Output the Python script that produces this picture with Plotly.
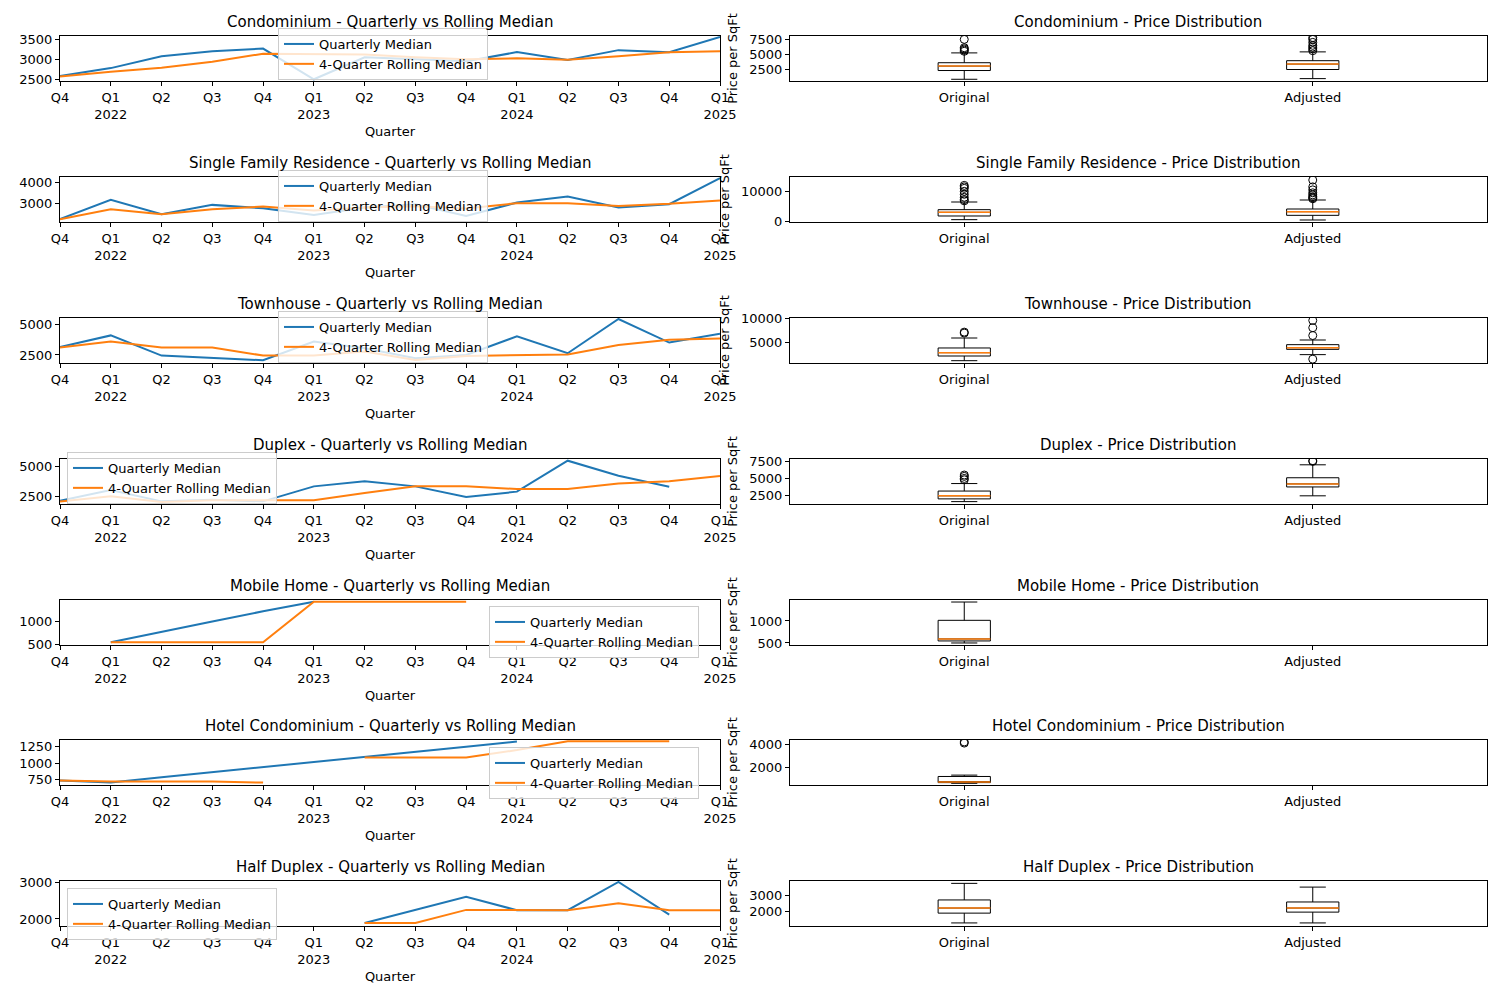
import plotly.graph_objects as go

quarters = ["Q4", "Q1<br>2022", "Q2", "Q3", "Q4", "Q1<br>2023", "Q2", "Q3", "Q4",
            "Q1<br>2024", "Q2", "Q3", "Q4", "Q1<br>2025"]
N = None

types = ["Condominium", "Single Family Residence", "Townhouse", "Duplex",
         "Mobile Home", "Hotel Condominium", "Half Duplex"]

quarterly = {
    "Condominium": [2585, 2780, 3075, 3200, 3270, 2500, 3050, 3000, 2950, 3180, 2985, 3230, 3180, 3560],
    "Single Family Residence": [2250, 3160, 2480, 2920, 2760, 2440, 2800, 2950, 2400, 3030, 3320, 2800, 2950, 4190],
    "Townhouse": [3150, 4080, 2450, 2250, 2070, 3590, 3040, 2230, 2500, 4000, 2640, 5410, 3500, 4210],
    "Duplex": [2140, 3030, 2080, 2220, 2080, 3330, 3750, 3330, 2440, 2890, 5470, 4220, 3300, N],
    "Mobile Home": [N, 551, 770, 1005, 1225, 1435, N, N, N, N, N, N, N, N],
    "Hotel Condominium": [740, 709, 790, 865, 940, 1020, 1095, 1175, 1250, 1330, N, N, N, N],
    "Half Duplex": [N, N, N, N, N, N, 1890, 2255, 2600, 2236, 2236, 3000, 2118, N],
}
rolling = {
    "Condominium": [2570, 2690, 2790, 2940, 3140, 3130, 3120, 3050, 3000, 3025, 2990, 3075, 3180, 3200],
    "Single Family Residence": [2240, 2710, 2480, 2710, 2840, 2650, 2800, 2850, 2750, 3000, 3000, 2870, 2970, 3130],
    "Townhouse": [3100, 3590, 3100, 3100, 2450, 2450, 2770, 2090, 2420, 2450, 2530, 3310, 3720, 3830],
    "Duplex": [2060, 2500, 2030, 2170, 2170, 2170, 2780, 3330, 3330, 3110, 3110, 3560, 3750, 4190],
    "Mobile Home": [N, 551, 551, 551, 551, 1435, 1435, 1435, 1435, N, N, N, N, N],
    "Hotel Condominium": [740, 724, 724, 724, 709, N, 1087, 1087, 1087, 1200, 1332, 1332, 1332, N],
    "Half Duplex": [N, N, N, N, N, N, 1890, 1890, 2245, 2236, 2236, 2427, 2236, 2236],
}
line_ranges = [[2457, 3584], [2111, 4238], [1848, 5489], [1861, 5611], [493, 1471], [673, 1352], [1809, 3027]]
line_ticks = [[2500, 3000, 3500], [3000, 4000], [2500, 5000], [2500, 5000], [500, 1000], [750, 1000, 1250], [2000, 3000]]

# box stats: [low whisker, q1, median, q3, high whisker]
box_original = {
    "Condominium": [800, 2270, 3010, 3580, 5230],
    "Single Family Residence": [450, 1690, 2920, 3820, 6400],
    "Townhouse": [1230, 2190, 2880, 3840, 5890],
    "Duplex": [1600, 2000, 2450, 3150, 4250],
    "Mobile Home": [500, 546, 592, 1015, 1431],
    "Hotel Condominium": [576, 636, 697, 1182, 1303],
    "Half Duplex": [1240, 1870, 2196, 2717, 3783],
}
box_adjusted = {
    "Condominium": [910, 2440, 3350, 3920, 5400],
    "Single Family Residence": [340, 1910, 3146, 4045, 7080],
    "Townhouse": [2470, 3560, 3900, 4520, 5480],
    "Duplex": [2450, 3750, 4200, 5100, 7000],
    "Mobile Home": None,
    "Hotel Condominium": None,
    "Half Duplex": [1240, 1935, 2196, 2587, 3543],
}
outliers_original = {
    "Condominium": [5500, 5700, 5900, 6100, 7500],
    "Single Family Residence": [6800, 7200, 8000, 9000, 10000, 11000, 11500, 12000],
    "Townhouse": [6900, 7100],
    "Duplex": [4800, 5000, 5300, 5500],
    "Mobile Home": [],
    "Hotel Condominium": [4150, 4250],
    "Half Duplex": [],
}
outliers_adjusted = {
    "Condominium": [5600, 5900, 6200, 6500, 7000, 7500, 7800],
    "Single Family Residence": [7500, 7800, 8200, 8800, 9500, 10500, 11500, 13800],
    "Townhouse": [1550, 6400, 8000, 9500],
    "Duplex": [7500, 7600],
    "Mobile Home": [],
    "Hotel Condominium": [],
    "Half Duplex": [],
}
box_ranges = [[511, 8068], [-337, 14831], [753, 10000], [1250, 7850], [454, 1477], [424, 4424], [1043, 3935]]
box_ticks = [[2500, 5000, 7500], [0, 10000], [5000, 10000], [2500, 5000, 7500], [500, 1000], [2000, 4000], [2000, 3000]]

BLUE, ORANGE = "#1f77b4", "#ff7f0e"
FONT = "DejaVu Sans"
W, HT, OFF = 1484, 984, 8   # page body margin shifts the figure by 8px
tops = [36, 177, 318, 459, 600, 740, 881]
H = 45
legend_pos = [(278, 28), (278, 170), (278, 311), (67, 452), (489, 606), (489, 747), (67, 888)]


def fx(px):
    return (px - OFF) / W


def fy(py):
    return 1 - (py - OFF) / HT


fig = go.Figure()
layout = dict(width=W, height=HT, margin=dict(l=0, r=0, t=0, b=0), plot_bgcolor="white",
              paper_bgcolor="white", font=dict(family=FONT, size=13, color="black"), annotations=[])

axis_style = dict(showline=True, mirror=True, linecolor="black", linewidth=1, ticks="outside",
                  ticklen=4, tickcolor="black", showgrid=False, zeroline=False, automargin=False,
                  tickfont=dict(size=13))

xq = list(range(len(quarters)))
for i, t in enumerate(types):
    dom_y = [fy(tops[i] + H), fy(tops[i])]
    lx, ly = 2 * i + 1, 2 * i + 2
    xa, ya = f"x{lx}", f"y{lx}"
    xb, yb = f"x{ly}", f"y{ly}"
    leg = "legend" if i == 0 else f"legend{i + 1}"

    fig.add_trace(go.Scatter(x=xq, y=quarterly[t], mode="lines", name="Quarterly Median",
                             line=dict(color=BLUE, width=2), xaxis=xa, yaxis=ya, legend=leg))
    fig.add_trace(go.Scatter(x=xq, y=rolling[t], mode="lines", name="4-Quarter Rolling Median",
                             line=dict(color=ORANGE, width=2), xaxis=xa, yaxis=ya, legend=leg))

    layout[f"xaxis{lx}"] = dict(axis_style, domain=[fx(60), fx(720)], anchor=ya, range=[0, 13],
                                tickmode="array", tickvals=xq, ticktext=quarters,
                                title=dict(text="Quarter", standoff=6, font=dict(size=13)))
    layout[f"yaxis{lx}"] = dict(axis_style, domain=dom_y, anchor=xa, range=line_ranges[i],
                                tickmode="array", tickvals=line_ticks[i])
    px, py = legend_pos[i]
    layout[leg] = dict(x=fx(px), y=fy(py), xanchor="left", yanchor="top",
                       bgcolor="rgba(255,255,255,0.8)", bordercolor="#cccccc", borderwidth=1,
                       font=dict(size=13, family=FONT), tracegroupgap=0)

    # box plots
    for pos, stats, outs in [(1, box_original[t], outliers_original[t]), (2, box_adjusted[t], outliers_adjusted[t])]:
        if stats is None:
            continue
        lo, q1, med, q3, hi = stats
        fig.add_trace(go.Box(x=[pos], q1=[q1], median=[med], q3=[q3], lowerfence=[lo], upperfence=[hi],
                             width=0.15, whiskerwidth=0.5, fillcolor="white", boxpoints=False,
                             line=dict(color="black", width=1), showlegend=False, xaxis=xb, yaxis=yb))
        fig.add_trace(go.Scatter(x=[pos - 0.075, pos + 0.075], y=[med, med], mode="lines",
                                 line=dict(color=ORANGE, width=1.5), showlegend=False, xaxis=xb, yaxis=yb))
        if outs:
            fig.add_trace(go.Scatter(x=[pos] * len(outs), y=outs, mode="markers",
                                     marker=dict(symbol="circle-open", size=8, color="black", line=dict(width=1)),
                                     showlegend=False, xaxis=xb, yaxis=yb))

    layout[f"xaxis{ly}"] = dict(axis_style, domain=[fx(790), fx(1487)], anchor=yb, range=[0.5, 2.5],
                                tickmode="array", tickvals=[1, 2], ticktext=["Original", "Adjusted"])
    layout[f"yaxis{ly}"] = dict(axis_style, domain=dom_y, anchor=xb, range=box_ranges[i],
                                tickmode="array", tickvals=box_ticks[i], tickformat="d",
                                title=dict(text="Price per SqFt", standoff=8, font=dict(size=13)))

    layout["annotations"] += [
        dict(text=f"{t} - Quarterly vs Rolling Median", x=fx(390), y=dom_y[1], xref="paper", yref="paper",
             xanchor="center", yanchor="bottom", yshift=3, showarrow=False, font=dict(size=15)),
        dict(text=f"{t} - Price Distribution", x=fx(1138), y=dom_y[1], xref="paper", yref="paper",
             xanchor="center", yanchor="bottom", yshift=3, showarrow=False, font=dict(size=15)),
    ]

fig.update_layout(**layout)
fig.write_html("out.html")
